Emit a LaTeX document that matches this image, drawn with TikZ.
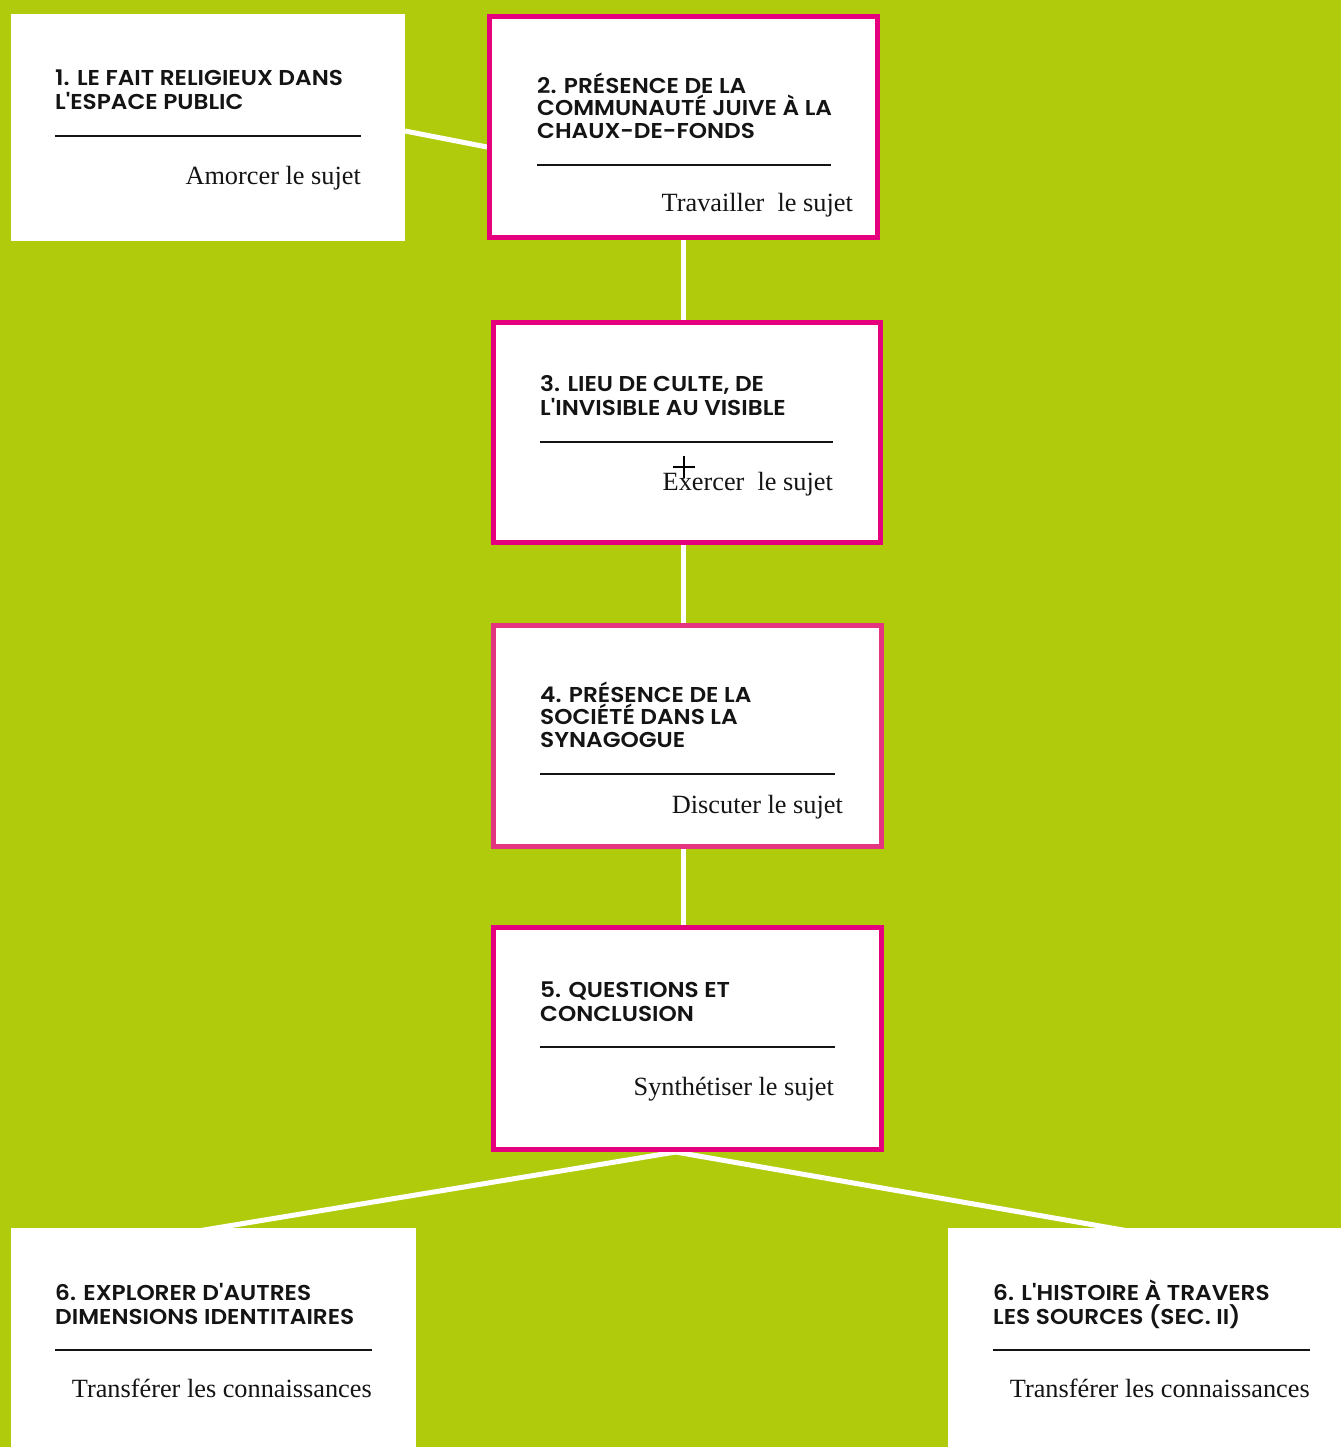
\documentclass[tikz,border=0pt]{standalone}
\usepackage{fontspec}
\usetikzlibrary{calc}
\setmainfont{Liberation Serif}
\newfontfamily\headfont{Poppins}[UprightFont={* SemiBold}, FakeStretch=1.08]
\definecolor{bggreen}{HTML}{B0CB0B}
\definecolor{pinkc}{HTML}{E5007D}
\definecolor{pinkl}{HTML}{E43580}
\definecolor{inkc}{HTML}{141414}
\pgfdeclarelayer{background}
\pgfsetlayers{background,main}
\tikzset{
  whitebox/.style={fill=white, draw=none, inner sep=0pt, outer sep=0pt, minimum width=#1},
  pinkbox/.style={fill=white, draw=pinkc, line width=5pt, inner sep=0pt},
  head/.style={anchor=base west, inner sep=0pt, text=inkc, font=\headfont\fontsize{21.5}{24}\selectfont},
  sub/.style={anchor=base east, inner sep=0pt, text=inkc, font=\fontsize{26.3}{30}\selectfont},
  rulel/.style={draw=inkc, line width=1.6pt},
  conn/.style={draw=white, line width=5pt},
}
\begin{document}
\begin{tikzpicture}[x=1pt, y=-1pt]
\useasboundingbox (0,0) rectangle (1341,1447);
\begin{pgfonlayer}{background}
\fill[bggreen] (0,0) rectangle (1341,1447);
\end{pgfonlayer}

% boxes
\node[whitebox=394pt, minimum height=227pt] (b1) at (208,127.5) {};
\node[pinkbox, minimum width=388pt, minimum height=221pt] (b2) at (683.5,127) {};
\node[pinkbox, minimum width=387pt, minimum height=220pt] (b3) at (687,432.5) {};
\node[pinkbox, draw=pinkl, minimum width=388pt, minimum height=221pt] (b4) at (687.5,736) {};
\node[pinkbox, minimum width=388pt, minimum height=222pt] (b5) at (687.5,1038.5) {};
\node[whitebox=405pt, minimum height=219pt] (b6a) at (213.5,1337.5) {};
\node[whitebox=393pt, minimum height=219pt] (b6b) at (1144.5,1337.5) {};

% connectors
\begin{pgfonlayer}{background}
\draw[conn] ([yshift=-3.5pt]b1.east) -- ([yshift=-20pt]b2.west);
\draw[conn] (b2.south) -- (b2.south |- b3.north);
\draw[conn] (b2.south |- b3.south) -- (b2.south |- b4.north);
\draw[conn] (b2.south |- b4.south) -- (b2.south |- b5.north);
\coordinate (apex) at ([xshift=-12pt]b5.south);
\coordinate (endl) at ([xshift=2.5pt]b6a.north);
\coordinate (endr) at ([xshift=-33pt]b6b.north);
\draw[conn] (apex) -- ($(apex)!1.2!(endl)$);
\draw[conn] (apex) -- ($(apex)!1.2!(endr)$);
\end{pgfonlayer}

% box 1
\node[head] (h1a) at (55,86) {1. LE FAIT RELIGIEUX DANS};
\node[head] (h1b) at (55,110) {L'ESPACE PUBLIC};
\draw[rulel] (55,136) -- (361,136);
\node[sub] (s1) at (361,185) {Amorcer le sujet};

% box 2
\node[head] (h2a) at (537,94) {2. PRÉSENCE DE LA};
\node[head] (h2b) at (537,115.5) {COMMUNAUTÉ JUIVE À LA};
\node[head] (h2c) at (537,138.5) {CHAUX-DE-FONDS};
\draw[rulel] (537,165) -- (831,165);
\node[sub] (s2) at (853,212) {Travailler\ \ le sujet};

% box 3
\node[head] (h3a) at (540,391) {3. LIEU DE CULTE, DE};
\node[head] (h3b) at (540,415) {L'INVISIBLE AU VISIBLE};
\draw[rulel] (540,442) -- (833,442);
\node[sub] (s3) at (833,490) {Exercer\ \ le sujet};
\draw[draw=black, line width=1.5pt] (673,467) -- (695,467) (684,456) -- (684,478);

% box 4
\node[head] (h4a) at (540,702) {4. PRÉSENCE DE LA};
\node[head] (h4b) at (540,724) {SOCIÉTÉ DANS LA};
\node[head] (h4c) at (540,747) {SYNAGOGUE};
\draw[rulel] (540,774) -- (835,774);
\node[sub] (s4) at (843,813) {Discuter le sujet};

% box 5
\node[head] (h5a) at (540,997) {5. QUESTIONS ET};
\node[head] (h5b) at (540,1021) {CONCLUSION};
\draw[rulel] (540,1047) -- (835,1047);
\node[sub] (s5) at (834,1095) {Synthétiser le sujet};

% box 6a
\node[head] (h6a) at (55,1300) {6. EXPLORER D'AUTRES};
\node[head] (h6b) at (55,1324) {DIMENSIONS IDENTITAIRES};
\draw[rulel] (55,1350) -- (372,1350);
\node[sub] (s6a) at (372,1397) {Transférer les connaissances};

% box 6b
\node[head] (h7a) at (993,1300) {6. L'HISTOIRE À TRAVERS};
\node[head] (h7b) at (993,1324) {LES SOURCES (SEC. II)};
\draw[rulel] (993,1350) -- (1310,1350);
\node[sub] (s6b) at (1310,1397) {Transférer les connaissances};
\end{tikzpicture}
\end{document}
